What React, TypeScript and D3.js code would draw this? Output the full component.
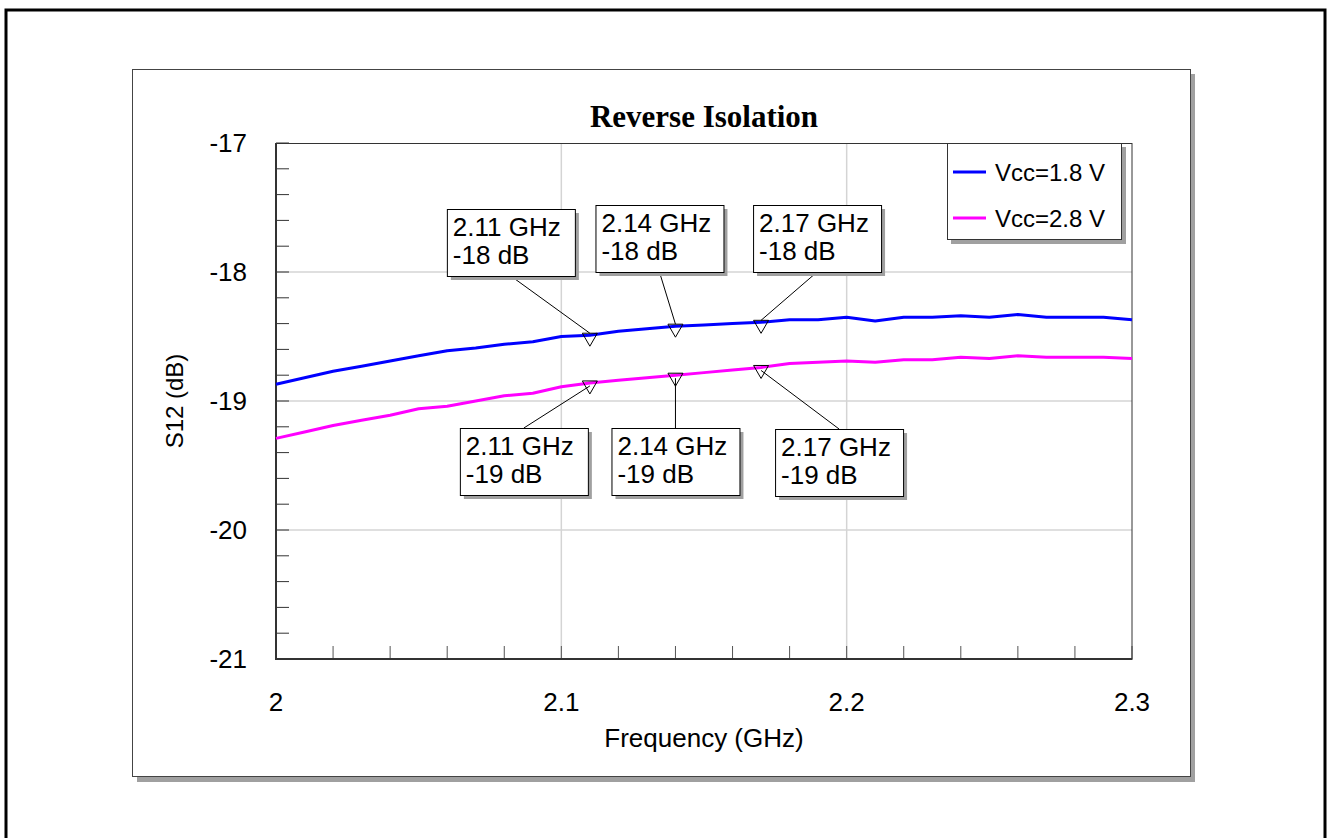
import React, { useEffect, useRef } from "react";
import * as d3 from "d3";

// frequency points (GHz) and S12 readings (dB)
const freqs = [
    2.0, 2.01, 2.02, 2.03, 2.04, 2.05, 2.06, 2.07, 2.08, 2.09,
    2.1, 2.11, 2.12, 2.13, 2.14, 2.15, 2.16, 2.17, 2.18, 2.19,
    2.2, 2.21, 2.22, 2.23, 2.24, 2.25, 2.26, 2.27, 2.28, 2.29, 2.3
];
const vcc18 = [
    -18.87, -18.82, -18.77, -18.73, -18.69, -18.65, -18.61, -18.59, -18.56, -18.54,
    -18.5, -18.49, -18.46, -18.44, -18.42, -18.41, -18.4, -18.39, -18.37, -18.37,
    -18.35, -18.38, -18.35, -18.35, -18.34, -18.35, -18.33, -18.35, -18.35, -18.35, -18.37
];
const vcc28 = [
    -19.29, -19.24, -19.19, -19.15, -19.11, -19.06, -19.04, -19.0, -18.96, -18.94,
    -18.89, -18.86, -18.84, -18.82, -18.8, -18.78, -18.76, -18.74, -18.71, -18.7,
    -18.69, -18.7, -18.68, -18.68, -18.66, -18.67, -18.65, -18.66, -18.66, -18.66, -18.67
];
const seriesNames = ["Vcc=1.8 V", "Vcc=2.8 V"];
const seriesColors = ["#0000ff", "#ff00ff"];
const markerFreqs = [2.11, 2.14, 2.17];
const xTicks = [2, 2.1, 2.2, 2.3];
const yTicks = [-21, -20, -19, -18, -17];

// where the marker boxes sit (box left relative to marker x, box top in px)
const boxLayout = [
    [{ dx: -143, top: 209 }, { dx: -80, top: 205 }, { dx: -8, top: 205 }],
    [{ dx: -130, top: 428 }, { dx: -64, top: 428 }, { dx: 14, top: 429 }]
];

const W = 1333;
const H = 838;
const FONT = "'Liberation Sans', Arial, sans-serif";

export default function App() {
    const svgRef = useRef<SVGSVGElement | null>(null);

    useEffect(() => {
        if (!svgRef.current) return;
        const svg = d3.select(svgRef.current);
        svg.selectAll("*").remove();

        const left = 276, right = 1132, top = 143, bottom = 659;

        const x = d3.scaleLinear().domain([2, 2.3]).range([left, right]);
        const y = d3.scaleLinear().domain([-21, -17]).range([bottom, top]);

        // outer frame
        svg.append("rect")
            .attr("x", 6).attr("y", 10)
            .attr("width", 1319).attr("height", 850)
            .attr("fill", "none").attr("stroke", "#000").attr("stroke-width", 3);

        // panel with shadow
        svg.append("rect")
            .attr("x", 137).attr("y", 74)
            .attr("width", 1058).attr("height", 708)
            .attr("fill", "#a0a0a0");
        svg.append("rect")
            .attr("x", 132.5).attr("y", 69.5)
            .attr("width", 1058).attr("height", 707)
            .attr("fill", "#fff").attr("stroke", "#444").attr("stroke-width", 1);

        // title
        svg.append("text")
            .attr("x", (left + right) / 2).attr("y", 127)
            .attr("text-anchor", "middle")
            .attr("font-family", "'Liberation Serif', 'Times New Roman', serif")
            .attr("font-weight", "bold").attr("font-size", 31)
            .text("Reverse Isolation");

        // grid
        const g = svg.append("g");
        g.selectAll("line.gx")
            .data(xTicks.slice(1, -1))
            .join("line")
            .attr("x1", d => x(d)).attr("x2", d => x(d))
            .attr("y1", top).attr("y2", bottom)
            .attr("stroke", "#d4d4d4").attr("stroke-width", 1.5);
        g.selectAll("line.gy")
            .data(yTicks.slice(1, -1))
            .join("line")
            .attr("x1", left).attr("x2", right)
            .attr("y1", d => y(d)).attr("y2", d => y(d))
            .attr("stroke", "#d4d4d4").attr("stroke-width", 1.5);

        // minor ticks
        const xMinor = d3.range(0, 16).map(i => 2 + i * 0.02);
        const yMinor = d3.range(0, 21).map(i => -21 + i * 0.2);
        g.selectAll("line.tx")
            .data(xMinor)
            .join("line")
            .attr("x1", d => x(d)).attr("x2", d => x(d))
            .attr("y1", bottom).attr("y2", bottom - 13)
            .attr("stroke", "#555").attr("stroke-width", 1);
        g.selectAll("line.ty")
            .data(yMinor)
            .join("line")
            .attr("x1", left).attr("x2", left + 13)
            .attr("y1", d => y(d)).attr("y2", d => y(d))
            .attr("stroke", "#333").attr("stroke-width", 1);

        // plot border
        svg.append("rect")
            .attr("x", left).attr("y", top + 0.5)
            .attr("width", right - left).attr("height", bottom - top)
            .attr("fill", "none").attr("stroke", "#333").attr("stroke-width", 1);
        svg.append("path")
            .attr("d", `M${left},${top} V${bottom} H${right}`)
            .attr("fill", "none").attr("stroke", "#333").attr("stroke-width", 2);

        // tick labels
        svg.selectAll("text.xl")
            .data(xTicks)
            .join("text")
            .attr("x", d => x(d)).attr("y", bottom + 52)
            .attr("text-anchor", "middle")
            .attr("font-family", FONT).attr("font-size", 26)
            .text(d => String(d));
        svg.selectAll("text.yl")
            .data(yTicks)
            .join("text")
            .attr("x", left - 29).attr("y", d => y(d) + 9)
            .attr("text-anchor", "end")
            .attr("font-family", FONT).attr("font-size", 26)
            .text(d => String(d));

        // axis titles
        svg.append("text")
            .attr("x", (left + right) / 2).attr("y", 747)
            .attr("text-anchor", "middle")
            .attr("font-family", FONT).attr("font-size", 26)
            .text("Frequency (GHz)");
        svg.append("text")
            .attr("transform", `translate(183,${(top + bottom) / 2}) rotate(-90)`)
            .attr("text-anchor", "middle")
            .attr("font-family", FONT).attr("font-size", 24)
            .text("S12 (dB)");

        // curves
        const series = [vcc18, vcc28];
        const line = d3.line<number>()
            .x((_, i) => x(freqs[i]))
            .y(d => y(d));
        series.forEach((vals, si) => {
            svg.append("path")
                .attr("d", line(vals))
                .attr("fill", "none")
                .attr("stroke", seriesColors[si])
                .attr("stroke-width", 3)
                .attr("stroke-linejoin", "round");
        });

        // markers + callout boxes
        series.forEach((vals, si) => {
            markerFreqs.forEach((f, mi) => {
                const idx = freqs.findIndex(v => Math.abs(v - f) < 1e-9);
                const val = vals[idx];
                const mx = x(f);
                const my = y(val);
                const lay = boxLayout[si][mi];
                const bx = mx + lay.dx;
                const by = lay.top;
                const bw = 128, bh = 67;
                const isAbove = by < my;

                svg.append("line")
                    .attr("x1", bx + bw / 2)
                    .attr("y1", isAbove ? by + bh : by)
                    .attr("x2", mx)
                    .attr("y2", isAbove ? my - 2 : my + 3)
                    .attr("stroke", "#000").attr("stroke-width", 1);

                svg.append("path")
                    .attr("d", `M${mx - 7.5},${my - 2} L${mx + 7.5},${my - 2} L${mx},${my + 11} Z`)
                    .attr("fill", "none").attr("stroke", "#000").attr("stroke-width", 1);

                svg.append("rect")
                    .attr("x", bx + 4).attr("y", by + 4)
                    .attr("width", bw).attr("height", bh)
                    .attr("fill", "#a0a0a0");
                svg.append("rect")
                    .attr("x", bx + 0.5).attr("y", by + 0.5)
                    .attr("width", bw).attr("height", bh)
                    .attr("fill", "#fff").attr("stroke", "#000").attr("stroke-width", 1);

                svg.append("text")
                    .attr("x", bx + 6).attr("y", by + 27)
                    .attr("font-family", FONT).attr("font-size", 26)
                    .text(`${d3.format(".2f")(f)} GHz`);
                svg.append("text")
                    .attr("x", bx + 6).attr("y", by + 55)
                    .attr("font-family", FONT).attr("font-size", 26)
                    .text(`${Math.round(val)} dB`);
            });
        });

        // legend
        const lg = svg.append("g");
        lg.append("rect")
            .attr("x", 951).attr("y", 147)
            .attr("width", 175).attr("height", 97)
            .attr("fill", "#a0a0a0");
        lg.append("rect")
            .attr("x", 947.5).attr("y", 143.5)
            .attr("width", 174).attr("height", 96)
            .attr("fill", "#fff").attr("stroke", "#333").attr("stroke-width", 1);
        seriesNames.forEach((name, i) => {
            const ly = 172 + i * 46;
            lg.append("line")
                .attr("x1", 953).attr("x2", 986)
                .attr("y1", ly).attr("y2", ly)
                .attr("stroke", seriesColors[i]).attr("stroke-width", 3);
            lg.append("text")
                .attr("x", 995).attr("y", ly + 9)
                .attr("font-family", FONT).attr("font-size", 24)
                .text(name);
        });
    }, []);

    return (
        <div style={{ position: "absolute", left: 0, top: 0, width: W, height: H, background: "#fff" }}>
            <svg ref={svgRef} width={W} height={H} style={{ display: "block" }} />
        </div>
    );
}
